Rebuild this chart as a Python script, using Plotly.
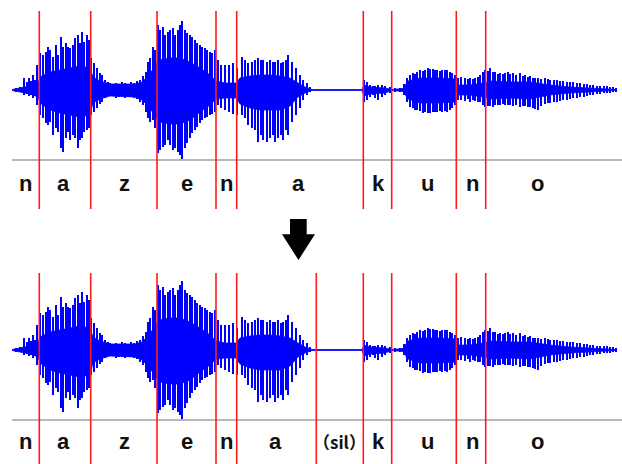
import plotly.graph_objects as go

# ---------------- data (time in frame units, amplitude in arbitrary units) ----------------
phonemes_top = ["n", "a", "z", "e", "n", "a", "k", "u", "n", "o"]
phoneme_pos_top = [25, 63, 124, 187, 226, 298, 378, 427, 472, 537]
phonemes_bottom = ["n", "a", "z", "e", "n", "a", "（sil）", "k", "u", "n", "o"]
phoneme_pos_bottom = [25, 63, 124, 187, 226, 275, 339, 378, 427, 472, 537]

bounds_top = [39.3, 90.7, 157, 216, 236.7, 363.3, 391.7, 456.3, 485.7]
bounds_bottom = [39.3, 90.7, 157, 216, 236.7, 316.3, 363.3, 391.7, 456.3, 485.7]

# pitch pulses of the waveform: time, positive peak, negative peak
pulse_t = [
    16, 20, 24, 27, 29, 31, 33, 35, 37,
    40, 43, 46, 48, 50, 53, 56, 58, 61, 63, 66, 68, 70, 73, 75, 78, 80, 82, 84, 87, 89, 91,
    94, 97, 100, 102, 105, 108, 110, 113,
    116, 119, 122, 125, 128, 131, 134, 137, 140, 143, 146, 148, 150, 153, 155,
    158, 160, 163, 165, 168, 170, 173, 175, 178, 180, 182, 185, 187, 190, 192, 195, 197, 200, 202, 205, 207, 210, 212, 215,
    218, 221, 225, 229, 233, 237,
    242, 245, 248, 252, 255, 258, 261, 263, 267, 270, 273, 275, 278, 281, 283, 286, 288, 292, 296, 300, 303, 307, 310,
    364, 367, 370, 373, 375, 378, 382, 385, 390,
    395, 400, 404,
    407, 410, 413, 415, 417, 420, 423, 425, 428, 430, 433, 435, 437, 440, 442, 445, 447, 450, 452, 455,
    458, 461, 465, 468, 470, 473, 475, 478, 480, 483,
    485, 488, 490, 493, 495, 498, 500, 503, 505, 508, 510, 513, 516, 520, 523, 525, 528, 530, 533, 535,
    538, 541, 545, 548, 550, 554, 557, 560, 563, 567, 570, 573, 577, 580, 584, 587, 590, 593, 597, 600,
    604, 607, 610, 613, 616,
]
pulse_up = [
    2, 3, 12, 8, 12, 9, 15, 10, 25,
    37, 35, 38, 43, 40, 33, 45, 35, 53, 43, 47, 43, 42, 45, 52, 55, 47, 58, 48, 55, 50, 32,
    27, 22, 17, 15, 10, 8, 7, 5,
    7, 6, 8, 7, 6, 8, 7, 9, 10, 14, 18, 28, 32, 43, 40,
    65, 60, 63, 55, 58, 60, 62, 55, 60, 65, 69, 60, 57, 55, 53, 50, 47, 45, 43, 42, 40, 38, 37, 40,
    30, 25, 25, 25, 27, 22,
    33, 30, 27, 28, 30, 32, 30, 30, 28, 30, 28, 28, 30, 27, 28, 30, 35, 28, 22, 15, 10, 7, 3,
    10, 8, 5, 4, 4, 5, 5, 4, 3,
    2, 2, 6,
    12, 15, 17, 16, 18, 20, 19, 20, 22, 21, 21, 20, 20, 19, 20, 20, 20, 18, 17, 15,
    12, 13, 12, 11, 12, 11, 12, 13, 15, 18,
    20, 19, 22, 18, 18, 16, 17, 16, 17, 18, 16, 17, 15, 17, 14, 15, 13, 14, 12, 12,
    12, 11, 12, 11, 10, 10, 10, 9, 9, 8, 8, 8, 7, 7, 6, 6, 5, 5, 4, 4,
    4, 4, 3, 3, 2,
]
pulse_dn = [
    2, 2, 5, 4, 6, 5, 8, 6, 15,
    25, 28, 33, 35, 32, 45, 38, 42, 58, 62, 48, 42, 50, 45, 48, 58, 50, 48, 42, 40, 38, 25,
    22, 18, 14, 12, 8, 6, 5, 4,
    8, 7, 6, 8, 7, 7, 8, 9, 12, 15, 22, 28, 32, 30, 38,
    63, 60, 57, 55, 50, 55, 60, 58, 62, 65, 69, 58, 53, 48, 43, 40, 37, 33, 30, 28, 27, 25, 24, 22,
    15, 18, 20, 22, 24, 25,
    25, 28, 35, 38, 40, 52, 45, 50, 52, 48, 45, 52, 48, 45, 50, 40, 45, 32, 25, 18, 10, 5, 2,
    12, 10, 7, 5, 8, 10, 7, 5, 3,
    2, 2, 5,
    12, 17, 18, 20, 20, 21, 23, 22, 23, 23, 22, 22, 22, 21, 22, 21, 22, 20, 18, 15,
    10, 10, 11, 9, 12, 10, 11, 12, 12, 15,
    17, 16, 16, 17, 15, 15, 15, 14, 15, 15, 15, 16, 15, 17, 16, 16, 17, 17, 18, 19,
    20, 16, 14, 13, 13, 12, 12, 11, 10, 10, 9, 8, 8, 7, 7, 6, 5, 5, 4, 4,
    3, 3, 3, 2, 2,
]

# dense core of the waveform (envelope of the high-frequency part)
core_t = [12, 20, 30, 38, 40, 50, 60, 70, 80, 90, 93, 100, 110, 120, 135, 142, 150, 156, 160, 170,
          180, 190, 200, 210, 216, 225, 236, 240, 250, 260, 270, 280, 290, 298, 305, 312, 362, 364, 370, 385,
          392, 403, 408, 420, 440, 455, 458, 470, 483, 490, 510, 530, 550, 570, 590, 616]
core_up = [0.5, 2, 4, 7, 13, 18, 20, 22, 24, 22, 13, 9, 6, 6, 6, 8, 16, 26, 30, 32,
           32, 28, 22, 15, 9, 7, 7, 12, 14, 15, 15, 14, 12, 7, 3, 0.5, 0.5, 5, 3, 2,
           0.5, 1.5, 9, 12, 12, 11, 5, 5, 7, 9, 8, 8, 5, 3, 2, 0.5]
core_dn = [0.5, 2, 4, 7, 13, 20, 23, 25, 27, 25, 13, 9, 6, 6, 7, 10, 18, 28, 32, 34,
           34, 30, 22, 15, 9, 8, 8, 14, 18, 20, 20, 20, 16, 7, 3, 0.5, 0.5, 6, 4, 3,
           0.5, 1.5, 9, 13, 13, 12, 5, 5, 7, 9, 8, 9, 5, 3, 2, 0.5]

assert len(pulse_t) == len(pulse_up) == len(pulse_dn), (len(pulse_t), len(pulse_up), len(pulse_dn))
assert len(core_t) == len(core_up) == len(core_dn)

# ---------------- figure ----------------
W, H = 622, 464
BLUE = "#0000ff"
RED = "#ff1a1a"
GRAY = "#a0a0a0"
BASELINE = -70          # level of the grey axis line below each waveform
X_START, X_END = 12, 622

panels = [
    dict(yax="y", bounds=bounds_top, labels=phonemes_top, pos=phoneme_pos_top,
         red=(79, -119), lab_y=-93),
    dict(yax="y2", bounds=bounds_bottom, labels=phonemes_bottom, pos=phoneme_pos_bottom,
         red=(77, -114), lab_y=-91),
]

fig = go.Figure()
annotations = []
for p in panels:
    yax = p["yax"]
    # core
    fig.add_trace(go.Scatter(
        x=core_t + core_t[::-1], y=core_up + [-v for v in core_dn[::-1]],
        fill="toself", fillcolor=BLUE, mode="lines", line=dict(color=BLUE, width=0.8),
        yaxis=yax, hoverinfo="skip", showlegend=False))
    # pulses
    xs, ys = [], []
    for t, u, d in zip(pulse_t, pulse_up, pulse_dn):
        xs += [t, t, None]
        ys += [u, -d, None]
    fig.add_trace(go.Scatter(x=xs, y=ys, mode="lines", line=dict(color=BLUE, width=2),
                             yaxis=yax, hoverinfo="skip", showlegend=False))
    # grey axis line
    fig.add_trace(go.Scatter(x=[X_START, X_END], y=[BASELINE, BASELINE], mode="lines",
                             line=dict(color=GRAY, width=1.6), yaxis=yax,
                             hoverinfo="skip", showlegend=False))
    # boundaries
    bx, by = [], []
    for b in p["bounds"]:
        bx += [b, b, None]
        by += [p["red"][0], p["red"][1], None]
    fig.add_trace(go.Scatter(x=bx, y=by, mode="lines", line=dict(color=RED, width=1.6),
                             yaxis=yax, hoverinfo="skip", showlegend=False))
    for lab, xpos in zip(p["labels"], p["pos"]):
        small = lab.startswith("（")
        annotations.append(dict(
            x=xpos, y=p["lab_y"], xref="x", yref=yax, text=lab, showarrow=False,
            font=dict(family="Noto Sans CJK JP" if small else "Liberation Sans, Arial",
                      size=17 if small else 22, color="#111111",
                      weight="bold"),
            xanchor="center", yanchor="middle"))

# down arrow (decoration) in pixel coordinates converted to paper
def px(x, y):
    return x / W, 1 - y / H

arrow_px = [(290, 219), (306.7, 219), (306.7, 234.3), (315, 234.3), (298.5, 260),
            (282, 234.3), (290, 234.3)]
path = "M " + " L ".join(f"{px(x, y)[0]:.5f},{px(x, y)[1]:.5f}" for x, y in arrow_px) + " Z"

fig.update_layout(
    width=W, height=H,
    margin=dict(l=0, r=0, t=0, b=0),
    paper_bgcolor="white", plot_bgcolor="white",
    xaxis=dict(range=[0, W], visible=False, fixedrange=True),
    yaxis=dict(domain=[1 - 220 / H, 1], range=[-130, 90], visible=False, fixedrange=True),
    yaxis2=dict(domain=[0, 224 / H], range=[-114, 110], visible=False, fixedrange=True, anchor="x"),
    annotations=annotations,
    shapes=[dict(type="path", path=path, xref="paper", yref="paper",
                 fillcolor="black", line=dict(color="black", width=0))],
    showlegend=False,
)

fig.write_html("out.html", config={"displayModeBar": False},
               post_script="document.body.style.margin='0px';document.body.style.overflow='hidden';")
